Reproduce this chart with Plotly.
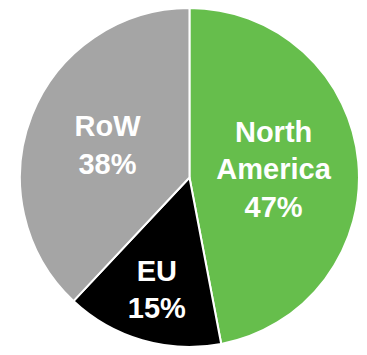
import plotly.graph_objects as go

categories = ["North America", "EU", "RoW"]
shares = [47, 15, 38]
colors = ["#66BE4C", "#000000", "#A5A5A5"]

display = [c.replace(" ", "<br>") for c in categories]

fig = go.Figure(go.Pie(
    labels=categories,
    values=shares,
    text=display,
    texttemplate="<b>%{text}<br>%{percent:.0%}</b>",
    textposition="inside",
    insidetextorientation="horizontal",
    sort=False,
    direction="clockwise",
    rotation=0,
    marker=dict(colors=colors, line=dict(color="white", width=2)),
    textfont=dict(family="Liberation Sans, Arial, sans-serif", size=29, color="white"),
    domain=dict(x=[0.034, 1.0], y=[0.0, 1.0]),
    showlegend=False,
    hoverinfo="label+percent",
))

fig.update_layout(
    margin=dict(l=0, r=0, t=0, b=0),
    paper_bgcolor="white",
    plot_bgcolor="white",
    showlegend=False,
)

fig.write_html("out.html")
